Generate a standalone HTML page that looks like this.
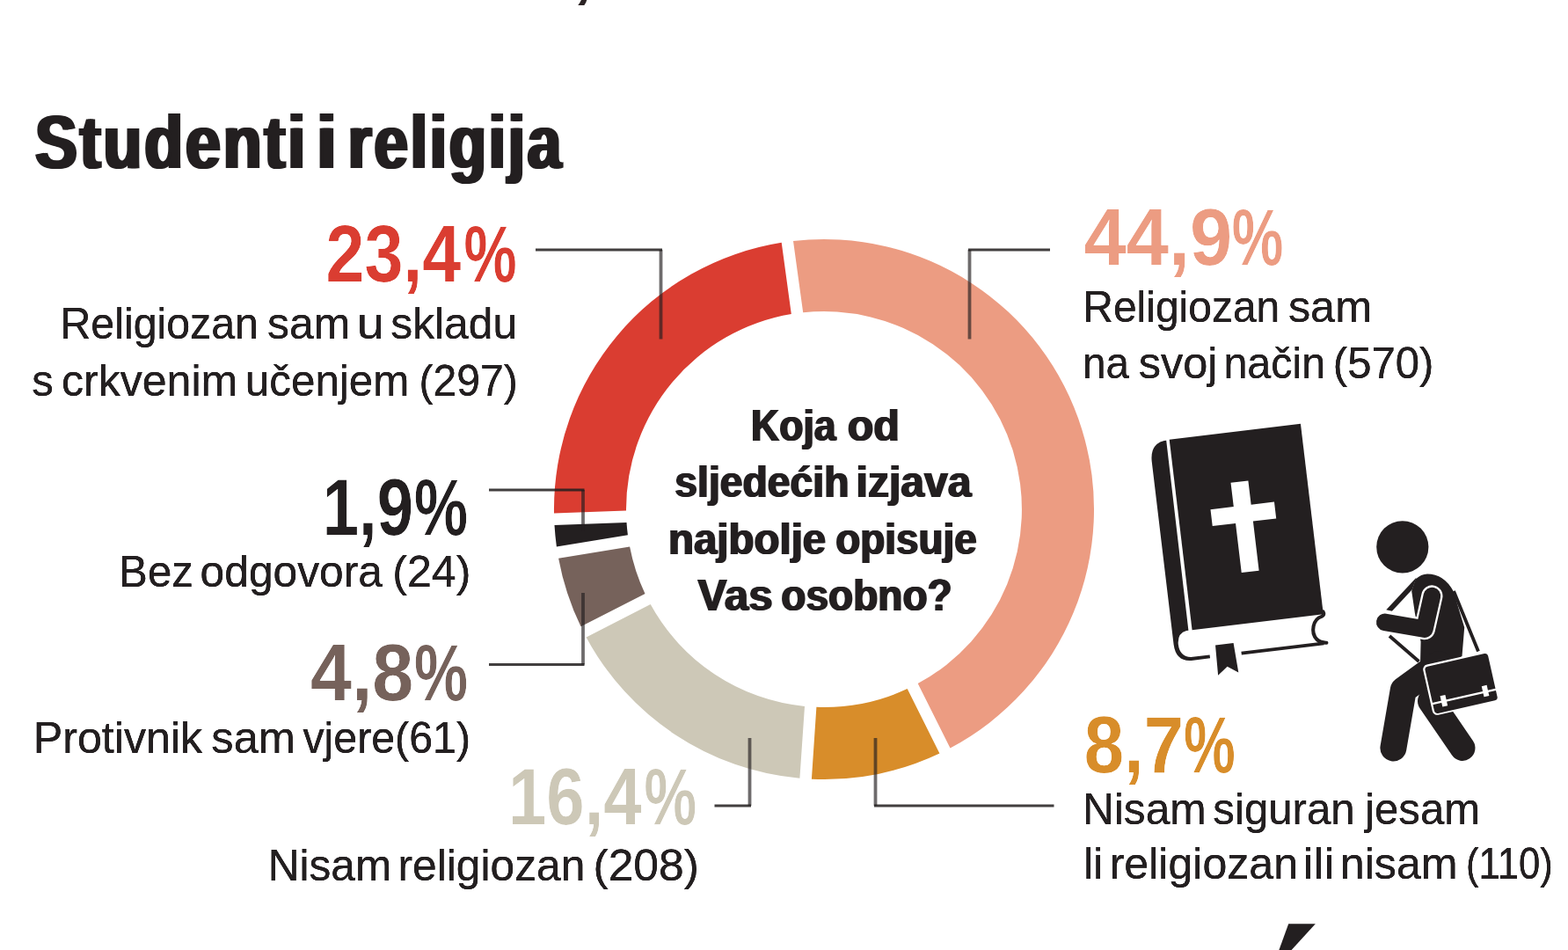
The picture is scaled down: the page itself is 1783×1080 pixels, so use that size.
<!DOCTYPE html>
<html lang="hr">
<head>
<meta charset="utf-8">
<title>Studenti i religija</title>
<style>
html,body{margin:0;padding:0;background:#fff;}
body{width:1783px;height:1080px;overflow:hidden;}
svg{display:block;filter:blur(0.55px);}
text{font-family:"Liberation Sans",sans-serif;}
</style>
</head>
<body>
<svg width="1783" height="1080" viewBox="0 0 1783 1080">
<defs>
<filter id="e0_2" x="-5%" y="-10%" width="110%" height="120%" color-interpolation-filters="sRGB"><feOffset dx="-0.2" dy="0" in="SourceGraphic" result="a"/><feOffset dx="0.2" dy="0" in="SourceGraphic" result="b"/><feComposite in="a" in2="b" operator="in"/></filter>
<filter id="h0_45" x="-5%" y="-10%" width="110%" height="120%" color-interpolation-filters="sRGB"><feOffset dx="-0.45" dy="0" in="SourceGraphic" result="a"/><feOffset dx="0.45" dy="0" in="SourceGraphic" result="b"/><feMerge><feMergeNode in="a"/><feMergeNode in="SourceGraphic"/><feMergeNode in="b"/></feMerge></filter>
<filter id="h1_0" x="-5%" y="-10%" width="110%" height="120%" color-interpolation-filters="sRGB"><feOffset dx="-1" dy="0" in="SourceGraphic" result="a"/><feOffset dx="1" dy="0" in="SourceGraphic" result="b"/><feMerge><feMergeNode in="a"/><feMergeNode in="SourceGraphic"/><feMergeNode in="b"/></feMerge></filter>
<filter id="h2_2" x="-5%" y="-10%" width="110%" height="120%" color-interpolation-filters="sRGB"><feOffset dx="-2.2" dy="0" in="SourceGraphic" result="a"/><feOffset dx="2.2" dy="0" in="SourceGraphic" result="b"/><feMerge><feMergeNode in="a"/><feMergeNode in="SourceGraphic"/><feMergeNode in="b"/></feMerge></filter>
</defs>
<rect width="1783" height="1080" fill="#ffffff"/>
<g id="donut">
<path d="M902.0 274.0A307 307 0 0 1 1080.5 850.4L1043.7 777.1A225 225 0 0 0 913.2 355.3Z" fill="#ec9c82"/>
<path d="M1068.4 856.5A307 307 0 0 1 922.9 885.7L928.4 803.8A225 225 0 0 0 1031.7 783.1Z" fill="#d88d2a"/>
<path d="M909.4 884.8A307 307 0 0 1 666.6 724.4L739.7 687.1A225 225 0 0 0 915.0 802.9Z" fill="#cdc8b7"/>
<path d="M660.5 712.3A307 307 0 0 1 635.1 634.7L716.1 621.6A225 225 0 0 0 733.5 675.1Z" fill="#76625b"/>
<path d="M632.9 621.4A307 307 0 0 1 630.5 597.0L712.5 594.0A225 225 0 0 0 713.9 608.3Z" fill="#231f20"/>
<path d="M630.0 583.5A307 307 0 0 1 888.7 275.8L899.8 357.1A225 225 0 0 0 712.0 580.5Z" fill="#da3d31"/>
</g>
<g id="leaders">
<path d="M751.5 284V385.5" fill="none" stroke="#231f20" stroke-opacity="0.66" stroke-width="3.8"/>
<path d="M609 284H753" fill="none" stroke="#231f20" stroke-opacity="0.86" stroke-width="3"/>
<path d="M1102.5 284V385.5" fill="none" stroke="#231f20" stroke-opacity="0.66" stroke-width="3.8"/>
<path d="M1194 284H1101" fill="none" stroke="#231f20" stroke-opacity="0.86" stroke-width="3"/>
<path d="M663 557V604" fill="none" stroke="#231f20" stroke-opacity="0.66" stroke-width="3.8"/>
<path d="M556 557H664.5" fill="none" stroke="#231f20" stroke-opacity="0.86" stroke-width="3"/>
<path d="M663 755.5V674" fill="none" stroke="#231f20" stroke-opacity="0.66" stroke-width="3.8"/>
<path d="M556 755.5H664.5" fill="none" stroke="#231f20" stroke-opacity="0.86" stroke-width="3"/>
<path d="M852.5 916V839" fill="none" stroke="#231f20" stroke-opacity="0.66" stroke-width="3.8"/>
<path d="M812.5 916H854" fill="none" stroke="#231f20" stroke-opacity="0.86" stroke-width="3"/>
<path d="M995.5 916V839" fill="none" stroke="#231f20" stroke-opacity="0.66" stroke-width="3.8"/>
<path d="M1198.5 916H994" fill="none" stroke="#231f20" stroke-opacity="0.86" stroke-width="3"/>
</g>
<g id="labels">
<text y="191.0" font-size="86" font-weight="bold" fill="#231f20" letter-spacing="3.5" filter="url(#h2_2)"><tspan x="39.96" textLength="310.21" lengthAdjust="spacingAndGlyphs">Studenti</tspan> <tspan x="359.65" textLength="26.73" lengthAdjust="spacingAndGlyphs">i</tspan> <tspan x="395.74" textLength="245.27" lengthAdjust="spacingAndGlyphs">religija</tspan></text>
<text y="320.0" font-size="90" font-weight="bold" fill="#da3d31" filter="url(#e0_2)"><tspan x="370.53" textLength="153.67" lengthAdjust="spacingAndGlyphs">23,4</tspan><tspan x="527.46" textLength="60.07" lengthAdjust="spacingAndGlyphs">%</tspan></text>
<text y="384.5" font-size="50" font-weight="normal" fill="#231f20" filter="url(#h0_45)"><tspan x="68.47" textLength="225.44" lengthAdjust="spacingAndGlyphs">Religiozan</tspan> <tspan x="304.11" textLength="94.23" lengthAdjust="spacingAndGlyphs">sam</tspan> <tspan x="405.86" textLength="31.04" lengthAdjust="spacingAndGlyphs">u</tspan> <tspan x="444.34" textLength="143.77" lengthAdjust="spacingAndGlyphs">skladu</tspan></text>
<text y="449.5" font-size="50" font-weight="normal" fill="#231f20" filter="url(#h0_45)"><tspan x="36.31" textLength="24.49" lengthAdjust="spacingAndGlyphs">s</tspan> <tspan x="69.94" textLength="200.34" lengthAdjust="spacingAndGlyphs">crkvenim</tspan> <tspan x="278.87" textLength="186.44" lengthAdjust="spacingAndGlyphs">učenjem</tspan> <tspan x="476.43" textLength="112.29" lengthAdjust="spacingAndGlyphs">(297)</tspan></text>
<text y="608.0" font-size="90" font-weight="bold" fill="#231f20" filter="url(#e0_2)"><tspan x="366.85" textLength="103.17" lengthAdjust="spacingAndGlyphs">1,9</tspan><tspan x="471.09" textLength="61.06" lengthAdjust="spacingAndGlyphs">%</tspan></text>
<text y="667.0" font-size="50" font-weight="normal" fill="#231f20" filter="url(#h0_45)"><tspan x="135.11" textLength="84.70" lengthAdjust="spacingAndGlyphs">Bez</tspan> <tspan x="227.59" textLength="207.42" lengthAdjust="spacingAndGlyphs">odgovora</tspan> <tspan x="446.36" textLength="88.93" lengthAdjust="spacingAndGlyphs">(24)</tspan></text>
<text y="796.0" font-size="90" font-weight="bold" fill="#76625b" filter="url(#e0_2)"><tspan x="352.98" textLength="117.31" lengthAdjust="spacingAndGlyphs">4,8</tspan><tspan x="471.09" textLength="61.06" lengthAdjust="spacingAndGlyphs">%</tspan></text>
<text y="856.0" font-size="50" font-weight="normal" fill="#231f20" filter="url(#h0_45)"><tspan x="37.73" textLength="192.49" lengthAdjust="spacingAndGlyphs">Protivnik</tspan> <tspan x="240.32" textLength="95.67" lengthAdjust="spacingAndGlyphs">sam</tspan> <tspan x="344.38" textLength="190.68" lengthAdjust="spacingAndGlyphs">vjere(61)</tspan></text>
<text y="937.0" font-size="90" font-weight="bold" fill="#cdc8b7" filter="url(#e0_2)"><tspan x="578.01" textLength="151.61" lengthAdjust="spacingAndGlyphs">16,4</tspan><tspan x="732.49" textLength="59.63" lengthAdjust="spacingAndGlyphs">%</tspan></text>
<text y="1001.0" font-size="50" font-weight="normal" fill="#231f20" filter="url(#h0_45)"><tspan x="304.75" textLength="140.44" lengthAdjust="spacingAndGlyphs">Nisam</tspan> <tspan x="452.52" textLength="212.76" lengthAdjust="spacingAndGlyphs">religiozan</tspan> <tspan x="674.45" textLength="120.55" lengthAdjust="spacingAndGlyphs">(208)</tspan></text>
<text y="300.5" font-size="90" font-weight="bold" fill="#ec9c82" filter="url(#e0_2)"><tspan x="1232.55" textLength="168.76" lengthAdjust="spacingAndGlyphs">44,9</tspan><tspan x="1400.71" textLength="58.58" lengthAdjust="spacingAndGlyphs">%</tspan></text>
<text y="366.0" font-size="50" font-weight="normal" fill="#231f20" filter="url(#h0_45)"><tspan x="1231.28" textLength="224.02" lengthAdjust="spacingAndGlyphs">Religiozan</tspan> <tspan x="1464.93" textLength="95.23" lengthAdjust="spacingAndGlyphs">sam</tspan></text>
<text y="430.0" font-size="50" font-weight="normal" fill="#231f20" filter="url(#h0_45)"><tspan x="1230.97" textLength="52.86" lengthAdjust="spacingAndGlyphs">na</tspan> <tspan x="1294.68" textLength="89.88" lengthAdjust="spacingAndGlyphs">svoj</tspan> <tspan x="1391.42" textLength="115.76" lengthAdjust="spacingAndGlyphs">način</tspan> <tspan x="1515.80" textLength="114.56" lengthAdjust="spacingAndGlyphs">(570)</tspan></text>
<text y="878.0" font-size="90" font-weight="bold" fill="#d88d2a" filter="url(#e0_2)"><tspan x="1232.81" textLength="113.18" lengthAdjust="spacingAndGlyphs">8,7</tspan><tspan x="1346.12" textLength="58.79" lengthAdjust="spacingAndGlyphs">%</tspan></text>
<text y="937.0" font-size="50" font-weight="normal" fill="#231f20" filter="url(#h0_45)"><tspan x="1230.95" textLength="140.66" lengthAdjust="spacingAndGlyphs">Nisam</tspan> <tspan x="1379.36" textLength="161.34" lengthAdjust="spacingAndGlyphs">siguran</tspan> <tspan x="1552.21" textLength="130.82" lengthAdjust="spacingAndGlyphs">jesam</tspan></text>
<text y="999.0" font-size="50" font-weight="normal" fill="#231f20" filter="url(#h0_45)"><tspan x="1232.13" textLength="22.06" lengthAdjust="spacingAndGlyphs">li</tspan> <tspan x="1261.68" textLength="214.42" lengthAdjust="spacingAndGlyphs">religiozan</tspan> <tspan x="1481.62" textLength="35.76" lengthAdjust="spacingAndGlyphs">ili</tspan> <tspan x="1523.83" textLength="133.72" lengthAdjust="spacingAndGlyphs">nisam</tspan> <tspan x="1667.05" textLength="98.71" lengthAdjust="spacingAndGlyphs">(110)</tspan></text>
<text y="500.5" font-size="50" font-weight="bold" fill="#231f20" filter="url(#h1_0)"><tspan x="853.97" textLength="96.63" lengthAdjust="spacingAndGlyphs">Koja</tspan> <tspan x="963.70" textLength="59.23" lengthAdjust="spacingAndGlyphs">od</tspan></text>
<text y="565.0" font-size="50" font-weight="bold" fill="#231f20" filter="url(#h1_0)"><tspan x="767.37" textLength="198.08" lengthAdjust="spacingAndGlyphs">sljedećih</tspan> <tspan x="973.58" textLength="131.02" lengthAdjust="spacingAndGlyphs">izjava</tspan></text>
<text y="630.0" font-size="50" font-weight="bold" fill="#231f20" filter="url(#h1_0)"><tspan x="759.94" textLength="179.28" lengthAdjust="spacingAndGlyphs">najbolje</tspan> <tspan x="950.18" textLength="160.63" lengthAdjust="spacingAndGlyphs">opisuje</tspan></text>
<text y="694.0" font-size="50" font-weight="bold" fill="#231f20" filter="url(#h1_0)"><tspan x="793.40" textLength="85.24" lengthAdjust="spacingAndGlyphs">Vas</tspan> <tspan x="888.37" textLength="194.27" lengthAdjust="spacingAndGlyphs">osobno?</tspan></text>
</g>
<g id="icons">
<g id="bible" transform="translate(1329.7,499.7) rotate(-6.82)">
<path d="M-3.6 0.6H-6Q-22.3 2.5-22.8 22V232Q-22.5 251.6-5 252.4H16.5V248.4H-5Q-17.6 246.5-17.6 232Q-17 219.5-6.5 218H-4.2Z" fill="#231f20"/>
<rect x="0" y="0" width="150.3" height="218" fill="#231f20"/>
<path d="M52.5 250.9H147" fill="none" stroke="#231f20" stroke-width="3.8"/>
<path d="M150.3 215Q152 219 148 220.3C138 222 133 236.5 139.5 245.5Q143.5 250 150 250.6" fill="none" stroke="#231f20" stroke-width="4.1" stroke-linecap="round"/>
<path d="M24.2 238.3H44.9L46.6 272.3L34.8 264L23.2 272.8Z" fill="#231f20"/>
<path d="M63.5 57H83.5V84.5H110V103.5H83.5V160H63.5V103.5H37V84.5H63.5Z" fill="#ffffff"/>
</g>
<g id="student">
<circle cx="1594.8" cy="621.8" r="29.6" fill="#231f20"/>
<path d="M1609.6 658.5Q1616 652.4 1623 652.4Q1642 652.4 1652.6 672L1665.2 713.3L1662.5 746L1640 762L1615 756L1615.6 729.6L1608.9 697L1605.2 671.9Z" fill="#231f20"/>
<path d="M1610.6 656.5L1576.3 693.3L1582.9 694.8L1606 670Z" fill="#231f20"/>
<path d="M1580 723L1613.5 752" fill="none" stroke="#231f20" stroke-width="3.8"/>
<path d="M1653 672L1681 740.5" fill="none" stroke="#231f20" stroke-width="3.8"/>
<path d="M1636 755L1595.8 784.4L1584.4 850.4" fill="none" stroke="#231f20" stroke-width="30" stroke-linecap="round" stroke-linejoin="round"/>
<path d="M1626.5 797L1663 850.4" fill="none" stroke="#231f20" stroke-width="29" stroke-linecap="round"/>
<path d="M1628.4 677.5L1619.9 715.1L1574.8 707.3" fill="none" stroke="#ffffff" stroke-width="24.2" stroke-linecap="round" stroke-linejoin="round"/>
<path d="M1628.4 677.5L1619.9 715.1L1574.8 707.3" fill="none" stroke="#231f20" stroke-width="19.6" stroke-linecap="round" stroke-linejoin="round"/>
<g transform="translate(1617,757) rotate(-12.7)">
<rect x="0.2" y="-0.2" width="77" height="58.6" rx="5.5" fill="#ffffff"/>
<rect x="2.4" y="2" width="73.4" height="54.6" rx="3.5" fill="#231f20"/>
<path d="M2 44.6H78" fill="none" stroke="#ffffff" stroke-width="2.4"/>
<rect x="12.5" y="38" width="6" height="12.5" fill="#ffffff"/>
<rect x="61" y="37.5" width="6" height="12.5" fill="#ffffff"/>
</g>
</g>
<text x="652" y="-5.6" font-size="78" font-weight="bold" fill="#2b2324">,</text>
<path d="M1465.2 1050.3H1495.8L1468.6 1080H1454.4Z" fill="#231f20"/>
</g>

</svg>
</body>
</html>
